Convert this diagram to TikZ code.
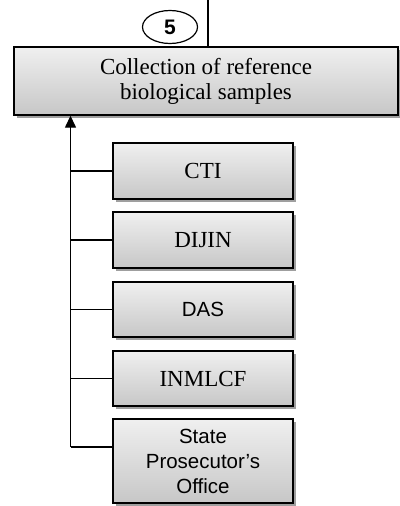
\documentclass[tikz,border=0pt]{standalone}
\usepackage{fontspec}
\setmainfont{Liberation Serif}
\newfontfamily\arialfont{Liberation Sans}
\usepackage{tikz}
\usetikzlibrary{arrows.meta, shapes.geometric, shadows}
\tikzset{
  orgbox/.style={draw, line width=1.4pt, top color=gray!12, bottom color=gray!44,
    drop shadow={shadow xshift=2.5pt, shadow yshift=-3pt, fill=gray!75, opacity=1},
    align=center, inner sep=0pt, minimum width=180pt, minimum height=55pt,
    font=\fontsize{23}{25}\selectfont},
  sansbox/.style={orgbox, font=\arialfont\fontsize{20.5}{25}\selectfont},
  link/.style={line width=1.4pt}
}

\begin{document}
\begin{tikzpicture}[x=1pt, y=-1pt]
		\useasboundingbox (0,0) rectangle (399,506);
		\node[orgbox, minimum width=384pt, minimum height=68pt] (collect) at (206,81) {Collection of reference\\biological samples};
		\node[draw, ellipse, line width=1.2pt, minimum width=55pt, minimum height=33pt, inner sep=0pt, font=\arialfont\bfseries\fontsize{21}{24}\selectfont] (step5) at (170,27) {5};
		\coordinate (feed) at (208,0);
		\draw[link] (feed) -- (feed |- collect.north);
		\node[orgbox, minimum height=56pt] (cti) at (203,171) {CTI};
		\node[orgbox, minimum height=56pt] (dijin) at (203,240) {DIJIN};
		\node[sansbox] (das) at (203,309.5) {DAS};
		\node[orgbox] (inmlcf) at (203,378.5) {INMLCF};
		\node[sansbox, minimum height=84pt] (state) at (203,461) {State\\Prosecutor’s\\Office};
		\coordinate (spinebot) at (70.5,447);
		\draw[link, -{Triangle[length=12pt, width=11pt]}] (spinebot) -- (spinebot |- collect.south);
		\draw[link] (spinebot |- cti.west) -- (cti.west);
		\draw[link] (spinebot |- dijin.west) -- (dijin.west);
		\draw[link] (spinebot |- das.west) -- (das.west);
		\draw[link] (spinebot |- inmlcf.west) -- (inmlcf.west);
		\draw[link] (spinebot) -- (spinebot -| state.west);
	\end{tikzpicture}
\end{document}
